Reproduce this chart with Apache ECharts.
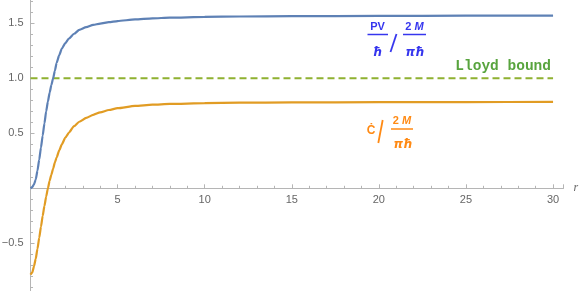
<!DOCTYPE html>
<html><head><meta charset="utf-8">
<script src="https://cdn.jsdelivr.net/npm/echarts@6/dist/echarts.min.js"></script>
<style>html,body{margin:0;padding:0;background:#fff}#c{width:581px;height:291px}</style>
</head><body><div id="c"></div>
<script>
var rValues   = [0, 0.1, 0.2, 0.3, 0.4, 0.5, 0.6, 0.7, 0.8, 0.9, 1.0, 1.1, 1.2, 1.3, 1.4, 1.5, 1.65, 1.8, 2.0, 2.2, 2.5, 2.8, 3.2, 3.6, 4.0, 4.5, 5, 6, 7, 8, 10, 12, 15, 20, 25, 30];
var pvRatio   = [0, 0.01, 0.035, 0.08, 0.16, 0.26, 0.37, 0.48, 0.59, 0.70, 0.79, 0.87, 0.94, 1.0, 1.07, 1.14, 1.21, 1.27, 1.32, 1.36, 1.405, 1.44, 1.465, 1.485, 1.497, 1.51, 1.52, 1.535, 1.545, 1.551, 1.558, 1.562, 1.565, 1.567, 1.569, 1.570];
var cdotRatio = [-0.785, -0.765, -0.71, -0.64, -0.55, -0.45, -0.35, -0.25, -0.16, -0.075, 0.0, 0.07, 0.125, 0.18, 0.235, 0.28, 0.345, 0.40, 0.46, 0.505, 0.565, 0.605, 0.64, 0.668, 0.69, 0.712, 0.728, 0.749, 0.760, 0.767, 0.774, 0.778, 0.781, 0.783, 0.784, 0.785];
var lloydR = [0, 30];
var lloydVal = [1, 1];
var xTicks = [5, 10, 15, 20, 25, 30];
var yTicks = [-0.5, 0.5, 1.0, 1.5];

function pairs(xs, ys){ return xs.map(function(x,i){ return [x, ys[i]]; }); }

var chart = echarts.init(document.getElementById('c'), null, {renderer:'canvas'});
var axisGray = '#b5b5b5';
var labelGray = '#666';
var blueTxt = '#3636ee';
var orangeTxt = '#ff8a14';

chart.setOption({
  animation: false,
  grid: {left: 30.5, top: -31.7, width: 533, height: 330, containLabel: false, outerBoundsMode: 'none'},
  xAxis: [{
    type: 'value', min: 0, max: 30.6, interval: 5,
    axisLine: {onZero: true, lineStyle: {color: axisGray, width: 1}},
    axisTick: {show: true, inside: true, length: 4, lineStyle: {color: axisGray}},
    minorTick: {show: true, splitNumber: 5, length: 2.5, lineStyle: {color: axisGray}},
    splitLine: {show: false},
    axisLabel: {show: false},
    name: 'r', nameLocation: 'end', nameGap: 10,
    nameTextStyle: {color: labelGray, fontStyle: 'italic', fontFamily: 'Liberation Serif', fontSize: 12, verticalAlign: 'middle', padding: [0,0,5,0]}
  }, {
    type: 'value', min: 0, max: 30.6, interval: 5, position: 'bottom', offset: -110,
    axisLine: {show: false}, axisTick: {show: false}, splitLine: {show: false},
    axisLabel: {
      color: labelGray, fontFamily: 'Liberation Sans', fontSize: 11, margin: 6,
      formatter: function(v){ return xTicks.indexOf(v) >= 0 ? String(v) : ''; }
    }
  }],
  yAxis: {
    type: 'value', min: -1, max: 2, interval: 0.5,
    axisLine: {onZero: false, lineStyle: {color: axisGray, width: 1}},
    axisTick: {show: true, inside: true, length: 4, lineStyle: {color: axisGray}},
    minorTick: {show: true, splitNumber: 5, length: 2.5, lineStyle: {color: axisGray}},
    splitLine: {show: false},
    axisLabel: {
      color: labelGray, fontFamily: 'Liberation Sans', fontSize: 11, margin: 7,
      formatter: function(v){
        var m = yTicks.filter(function(t){ return Math.abs(t - v) < 1e-9; });
        if (!m.length) return '';
        return v < 0 ? '\u2212' + Math.abs(v).toFixed(1) : v.toFixed(1);
      }
    }
  },
  series: [
    {type: 'line', data: pairs(rValues, pvRatio), smooth: 0.2, smoothMonotone: 'x', showSymbol: false,
     lineStyle: {color: '#5e81b5', width: 2.2}, z: 3},
    {type: 'line', data: pairs(rValues, cdotRatio), smooth: 0.2, smoothMonotone: 'x', showSymbol: false,
     lineStyle: {color: '#e19c24', width: 2.2}, z: 3},
    {type: 'line', data: pairs(lloydR, lloydVal), showSymbol: false,
     lineStyle: {color: '#8fb131', width: 2, type: [7, 4]}, z: 2}
  ],
  graphic: [
    {type: 'text', x: 377.5, y: 27, style: {text: 'PV', fill: blueTxt, font: 'bold 11px "Liberation Sans"', align: 'center', verticalAlign: 'middle'}},
    {type: 'line', shape: {x1: 367.5, y1: 34.5, x2: 388, y2: 34.5}, style: {stroke: blueTxt, lineWidth: 1.5}},
    {type: 'text', x: 377.5, y: 53, style: {text: 'ħ', fill: blueTxt, font: 'italic bold 12px "DejaVu Sans"', align: 'center', verticalAlign: 'middle'}},
    {type: 'line', shape: {x1: 396.5, y1: 34, x2: 390.5, y2: 52}, style: {stroke: blueTxt, lineWidth: 1.8}},
    {type: 'text', x: 414.5, y: 27, style: {
      text: '{n|2 }{m|M}', align: 'center', verticalAlign: 'middle',
      rich: {n: {fill: blueTxt, font: 'bold 11px "Liberation Sans"'}, m: {fill: blueTxt, font: 'italic bold 11px "Liberation Sans"'}}}},
    {type: 'line', shape: {x1: 403, y1: 34.5, x2: 426, y2: 34.5}, style: {stroke: blueTxt, lineWidth: 1.5}},
    {type: 'text', x: 415, y: 52.5, style: {text: 'πħ', fill: blueTxt, font: 'italic bold 12px "DejaVu Sans"', align: 'center', verticalAlign: 'middle'}},
    {type: 'text', x: 551, y: 66, style: {text: 'Lloyd bound', fill: '#58a43e', font: 'bold 14.5px "Liberation Mono"', align: 'right', verticalAlign: 'middle'}},
    {type: 'text', x: 371, y: 131, style: {text: 'Ċ', fill: orangeTxt, font: 'bold 12px "Liberation Sans"', align: 'center', verticalAlign: 'middle'}},
    {type: 'line', shape: {x1: 382.7, y1: 120, x2: 378.3, y2: 143}, style: {stroke: orangeTxt, lineWidth: 1.8}},
    {type: 'text', x: 402, y: 121, style: {
      text: '{n|2 }{m|M}', align: 'center', verticalAlign: 'middle',
      rich: {n: {fill: orangeTxt, font: 'bold 11px "Liberation Sans"'}, m: {fill: orangeTxt, font: 'italic bold 11px "Liberation Sans"'}}}},
    {type: 'line', shape: {x1: 391, y1: 129, x2: 413, y2: 129}, style: {stroke: orangeTxt, lineWidth: 1.5}},
    {type: 'text', x: 403, y: 144.5, style: {text: 'πħ', fill: orangeTxt, font: 'italic bold 12px "DejaVu Sans"', align: 'center', verticalAlign: 'middle'}}
  ]
});
</script></body></html>
